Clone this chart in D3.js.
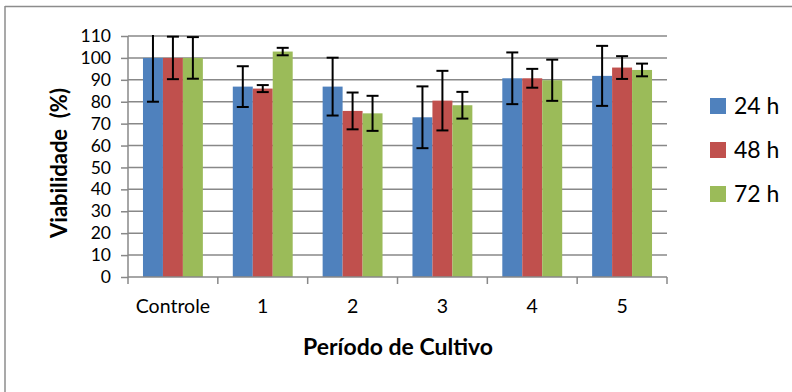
<!DOCTYPE html>
<html>
<head>
<meta charset="utf-8">
<script src="https://cdn.jsdelivr.net/npm/d3@7"></script>
<style>
  html, body { margin: 0; padding: 0; background: #fff; }
  svg { display: block; }
  text { font-family: Lato, "Open Sans", sans-serif; fill: #000; }
</style>
</head>
<body>
<svg id="chart" width="792" height="392"></svg>
<script>
const categories = ["Controle", "1", "2", "3", "4", "5"];
const seriesNames = ["24 h", "48 h", "72 h"];
const values24 = [100, 86.9, 86.9, 72.9, 90.7, 91.8];
const errors24 = [20, 9.3, 13.2, 14.1, 11.8, 13.7];
const values48 = [100, 86.0, 75.8, 80.5, 90.7, 95.6];
const errors48 = [9.7, 1.6, 8.4, 13.6, 4.3, 5.2];
const values72 = [100, 102.9, 74.7, 78.4, 89.8, 94.5];
const errors72 = [9.5, 1.7, 8.0, 6.1, 9.4, 2.9];
const yTicks = [0, 10, 20, 30, 40, 50, 60, 70, 80, 90, 100, 110];
const colors = ["#4f81bd", "#c0504d", "#9bbb59"];
const yTitle = "Viabilidade  (%)";
const xTitle = "Período de Cultivo";

const seriesValues = [values24, values48, values72];
const seriesErrors = [errors24, errors48, errors72];

const svg = d3.select("#chart");
const pL = 128, pR = 667, pT = 36, pB = 277;

const x = d3.scaleBand().domain(categories).range([pL, pR]).padding(0);
const xs = d3.scaleBand().domain(seriesNames).range([0, x.bandwidth()])
  .paddingInner(0).paddingOuter(0.75);
const y = d3.scaleLinear().domain([0, 110]).range([pB, pT]);

// outer frame (top & left visible)
svg.append("line").attr("x1", 5).attr("x2", 792).attr("y1", 6.5).attr("y2", 6.5)
  .attr("stroke", "#8c8c8c").attr("stroke-width", 1.5);
svg.append("line").attr("x1", 5).attr("x2", 5).attr("y1", 6).attr("y2", 392)
  .attr("stroke", "#8c8c8c").attr("stroke-width", 1.5);

// gridlines
svg.append("g").selectAll("line").data(yTicks.filter(d => d > 0)).join("line")
  .attr("x1", pL).attr("x2", pR)
  .attr("y1", d => y(d)).attr("y2", d => y(d))
  .attr("stroke", "#888").attr("stroke-width", 1.5);

// bars
const groups = svg.append("g").selectAll("g").data(seriesNames).join("g")
  .attr("fill", (d, i) => colors[i]);
groups.each(function(s, si) {
  d3.select(this).selectAll("rect").data(categories).join("rect")
    .attr("x", (c) => x(c) + xs(s))
    .attr("width", xs.bandwidth())
    .attr("y", (c, ci) => y(seriesValues[si][ci]))
    .attr("height", (c, ci) => y(0) - y(seriesValues[si][ci]));
});

// y axis
const yAxis = d3.axisLeft(y).tickValues(yTicks).tickSize(7).tickPadding(10);
const gy = svg.append("g").attr("transform", `translate(${pL},0)`).call(yAxis);
gy.select(".domain").attr("stroke", "#888").attr("stroke-width", 1.5).attr("d", `M0,${pT}V${pB}`);
gy.selectAll(".tick line").attr("stroke", "#888").attr("stroke-width", 1.5);
gy.selectAll(".tick text").style("font-size", "17.5px").attr("fill", "#000");

// x axis
const xAxis = d3.axisBottom(x).tickSize(0).tickPadding(22);
const gx = svg.append("g").attr("transform", `translate(0,${pB})`).call(xAxis);
gx.select(".domain").attr("stroke", "#888").attr("stroke-width", 1.5).attr("d", `M${pL},0H${pR}`);
gx.selectAll(".tick text").style("font-size", "19.5px").attr("fill", "#000");
const bounds = categories.map(c => x(c)).concat([pR]);
gx.append("g").selectAll("line").data(bounds).join("line")
  .attr("x1", d => d).attr("x2", d => d).attr("y1", 0).attr("y2", 7)
  .attr("stroke", "#888").attr("stroke-width", 1.5);

// error bars (clipped to plot)
svg.append("clipPath").attr("id", "plotclip").append("rect")
  .attr("x", pL).attr("y", pT - 1).attr("width", pR - pL).attr("height", pB - pT + 1);
const eg = svg.append("g").attr("clip-path", "url(#plotclip)")
  .attr("stroke", "#000").attr("stroke-width", 2).attr("fill", "none");
seriesNames.forEach((s, si) => {
  categories.forEach((c, ci) => {
    const cx = x(c) + xs(s) + xs.bandwidth() / 2;
    const v = seriesValues[si][ci], e = seriesErrors[si][ci];
    const g = eg.append("g");
    g.append("line").attr("x1", cx).attr("x2", cx).attr("y1", y(v + e)).attr("y2", y(v - e));
    g.append("line").attr("x1", cx - 6).attr("x2", cx + 6).attr("y1", y(v + e)).attr("y2", y(v + e));
    g.append("line").attr("x1", cx - 6).attr("x2", cx + 6).attr("y1", y(v - e)).attr("y2", y(v - e));
  });
});

// legend
const lg = svg.append("g").selectAll("g").data(seriesNames).join("g")
  .attr("transform", (d, i) => `translate(710,${98 + i * 44})`);
lg.append("rect").attr("width", 16).attr("height", 16).attr("fill", (d, i) => colors[i]);
lg.append("text").attr("x", 24).attr("y", 8).attr("dy", "0.36em")
  .style("font-size", "23px").text(d => d);

// axis titles
svg.append("text").attr("transform", "translate(67,163) rotate(-90)")
  .attr("text-anchor", "middle").style("white-space", "pre")
  .style("font-size", "22px").style("font-weight", "bold").text(yTitle);
svg.append("text").attr("x", 398).attr("y", 355)
  .attr("text-anchor", "middle")
  .style("font-size", "23px").style("font-weight", "bold").text(xTitle);
</script>
</body>
</html>
